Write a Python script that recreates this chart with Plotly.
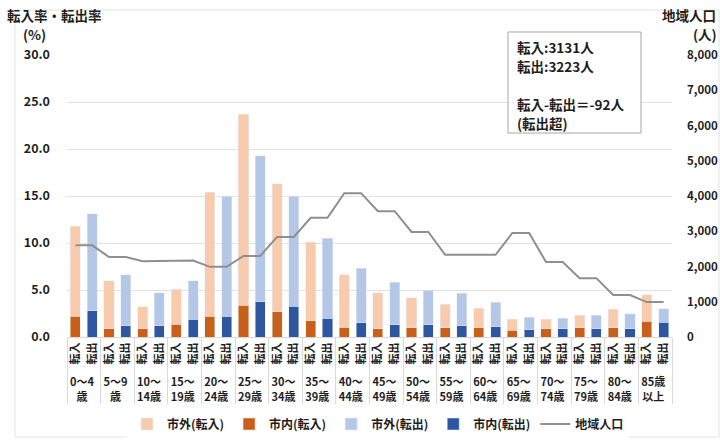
import plotly.graph_objects as go

age_groups = ["0〜4<br>歳", "5〜9<br>歳", "10〜<br>14歳", "15〜<br>19歳", "20〜<br>24歳",
              "25〜<br>29歳", "30〜<br>34歳", "35〜<br>39歳", "40〜<br>44歳", "45〜<br>49歳",
              "50〜<br>54歳", "55〜<br>59歳", "60〜<br>64歳", "65〜<br>69歳", "70〜<br>74歳",
              "75〜<br>79歳", "80〜<br>84歳", "85歳<br>以上"]
kinds = ["転入", "転出"]

# totals (市内 + 市外) and 市内 part, in %
in_total = [11.8, 6.0, 3.2, 5.1, 15.4, 23.7, 16.3, 10.1, 6.6, 4.7, 4.2, 3.5, 3.05, 1.9, 1.9, 2.3, 2.95, 4.5]
in_city  = [2.2, 0.9, 0.9, 1.35, 2.2, 3.4, 2.7, 1.75, 1.05, 0.9, 1.0, 1.0, 1.0, 0.7, 0.9, 1.0, 1.0, 1.7]
out_total = [13.1, 6.6, 4.7, 6.0, 15.0, 19.3, 15.0, 10.5, 7.3, 5.8, 5.0, 4.65, 3.7, 2.1, 2.0, 2.3, 2.5, 3.0]
out_city  = [2.8, 1.2, 1.2, 1.9, 2.2, 3.75, 3.25, 2.0, 1.5, 1.3, 1.3, 1.2, 1.1, 0.75, 0.9, 0.9, 0.9, 1.55]
population = [2600, 2270, 2150, 2170, 1990, 2300, 2840, 3380, 4080, 3570,
              2980, 2330, 2330, 2950, 2130, 1670, 1190, 990]

summary_lines = ["転入:3131人", "転出:3223人", "", "転入-転出＝-92人", "(転出超)"]

in_out = [round(t - c, 2) for t, c in zip(in_total, in_city)]
out_out = [round(t - c, 2) for t, c in zip(out_total, out_city)]

x_in = [age_groups, ["転入"] * len(age_groups)]
x_out = [age_groups, ["転出"] * len(age_groups)]
x_all = [[g for g in age_groups for _ in kinds], [k for _ in age_groups for k in kinds]]
pop_all = [p for p in population for _ in kinds]

C_IN_OUT = "#F8CBAD"
C_IN_CITY = "#C95F18"
C_OUT_OUT = "#B4C7E7"
C_OUT_CITY = "#2F56A0"
C_LINE = "#8F8F8F"

FONT = "Noto Sans CJK JP"
TXT = "#1E1E1E"

FW, FH = 720, 440

# plot area in pixels
L, R, T, B = 67, 672, 55, 337
W_PLOT, H_PLOT = R - L, B - T


def px(x):
    return (x - L) / W_PLOT


def py(y):
    return (B - y) / H_PLOT


fig = go.Figure()
fig.add_trace(go.Bar(x=x_in, y=in_city, name="市内(転入)", marker_color=C_IN_CITY, legendrank=2))
fig.add_trace(go.Bar(x=x_in, y=in_out, name="市外(転入)", marker_color=C_IN_OUT, legendrank=1))
fig.add_trace(go.Bar(x=x_out, y=out_city, name="市内(転出)", marker_color=C_OUT_CITY, legendrank=4))
fig.add_trace(go.Bar(x=x_out, y=out_out, name="市外(転出)", marker_color=C_OUT_OUT, legendrank=3))
fig.add_trace(go.Scatter(x=x_all, y=pop_all, name="地域人口", mode="lines", yaxis="y2",
                         line=dict(color=C_LINE, width=2), legendrank=5))

fig.update_layout(
    width=FW, height=FH,
    margin=dict(l=L, r=FW - R, t=T, b=FH - B, autoexpand=False),
    paper_bgcolor="white", plot_bgcolor="white",
    barmode="stack", bargap=0.4,
    font=dict(family=FONT, size=11, color=TXT),
    showlegend=True,
    legend=dict(orientation="h", x=px(378), xanchor="center", y=py(424), yanchor="middle",
                font=dict(size=12, color=TXT, weight="bold"), itemwidth=30,
                traceorder="normal"),
    xaxis=dict(type="multicategory", tickangle=-90, showgrid=False, automargin=False,
               tickfont=dict(size=11, family=FONT, color=TXT, weight="bold"),
               showdividers=True, dividercolor="#D9D9D9", dividerwidth=1,
               showline=True, linecolor="#D9D9D9", linewidth=1),
    yaxis=dict(range=[0, 30], dtick=5, tickformat=".1f", showgrid=True, gridcolor="#E0E0E0",
               zeroline=False, automargin=False,
               tickfont=dict(size=12.5, family=FONT, color=TXT, weight="bold"),
               ticks="", ticklabelstandoff=16),
    yaxis2=dict(range=[0, 8000], dtick=1000, tickformat=",", overlaying="y", side="right",
                showgrid=False, zeroline=False, automargin=False,
                tickfont=dict(size=11.5, family=FONT, color=TXT, weight="bold"),
                ticks="", ticklabelstandoff=14),
)

TITLE_FONT = dict(size=13.5, family=FONT, color=TXT, weight="bold")
fig.add_annotation(text="転入率・転出率", xref="paper", yref="paper", x=px(5), y=py(15),
                   xanchor="left", yanchor="middle", showarrow=False, font=TITLE_FONT)
fig.add_annotation(text="(%)", xref="paper", yref="paper", x=px(21), y=py(34),
                   xanchor="left", yanchor="middle", showarrow=False, font=TITLE_FONT)
fig.add_annotation(text="地域人口", xref="paper", yref="paper", x=px(718), y=py(15),
                   xanchor="right", yanchor="middle", showarrow=False, font=TITLE_FONT)
fig.add_annotation(text="(人)", xref="paper", yref="paper", x=px(719), y=py(34),
                   xanchor="right", yanchor="middle", showarrow=False, font=TITLE_FONT)

# summary box
fig.add_shape(type="rect", xref="paper", yref="paper",
              x0=px(508), x1=px(641), y0=py(133), y1=py(32),
              line=dict(color="#A6A6A6", width=1), fillcolor="white", layer="above")
for i, line in enumerate(summary_lines):
    if not line:
        continue
    fig.add_annotation(text=line, xref="paper", yref="paper", x=px(515), y=py(47 + 19 * i),
                       xanchor="left", yanchor="middle", showarrow=False,
                       font=dict(size=13.5, family=FONT, color=TXT, weight="bold"))

# chart frame
fig.add_shape(type="rect", xref="paper", yref="paper",
              x0=px(15), x1=px(719), y0=py(437), y1=py(10),
              line=dict(color="#E3E3E3", width=1), layer="below")

fig.write_html(
    "out.html",
    config={"displayModeBar": False},
    post_script="document.body.style.margin='0';document.body.style.overflow='hidden';",
)
